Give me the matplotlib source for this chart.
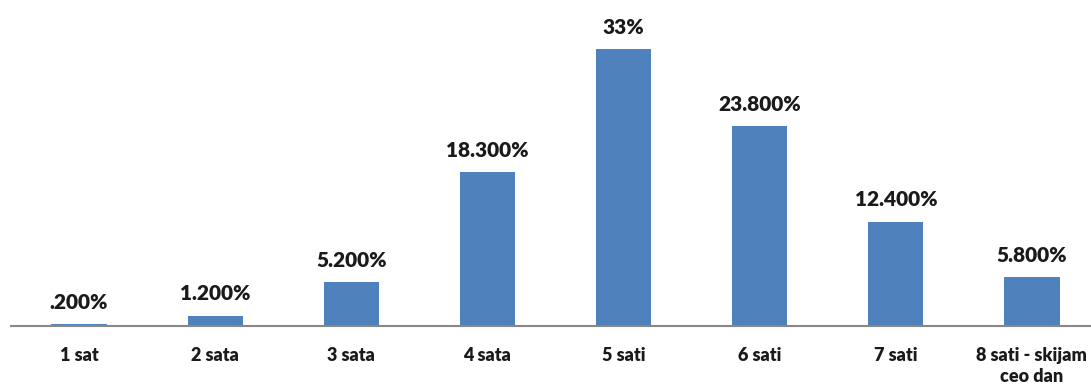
import matplotlib.pyplot as plt
import numpy as np

# data
categories = ["1 sat", "2 sata", "3 sata", "4 sata", "5 sati", "6 sati", "7 sati",
              "8 sati - skijam\nceo dan"]
values = [0.2, 1.2, 5.2, 18.3, 33, 23.8, 12.4, 5.8]
value_labels = [".200%", "1.200%", "5.200%", "18.300%", "33%", "23.800%", "12.400%", "5.800%"]

plt.rcParams['font.family'] = ['Lato', 'DejaVu Sans']

fig = plt.figure(figsize=(10.91, 3.92), dpi=100)
ax = fig.add_axes([11 / 1091, 66 / 392, 1089 / 1091, 293.6 / 392])

x = np.arange(len(categories))
bars = ax.bar(x, values, width=0.405, color='#4F81BD')

for b, lab in zip(bars, value_labels):
    ax.annotate(lab, (b.get_x() + b.get_width() / 2, b.get_height()),
                xytext=(0, 9), textcoords='offset points',
                ha='center', va='bottom', fontsize=15, fontweight='heavy', color='#1a1a1a')

ax.set_xlim(-0.5, len(categories) - 0.5)
ax.set_ylim(0, 35)
ax.set_xticks(x)
ax.set_xticklabels(categories, fontsize=13, fontweight='heavy', color='#1a1a1a',
                   linespacing=1.3)
ax.tick_params(axis='x', length=0, pad=15)
ax.set_yticks([])

for s in ['top', 'right', 'left']:
    ax.spines[s].set_visible(False)
ax.spines['bottom'].set_color('#888888')
ax.spines['bottom'].set_linewidth(1.5)

fig.savefig('out.png', dpi=100)
